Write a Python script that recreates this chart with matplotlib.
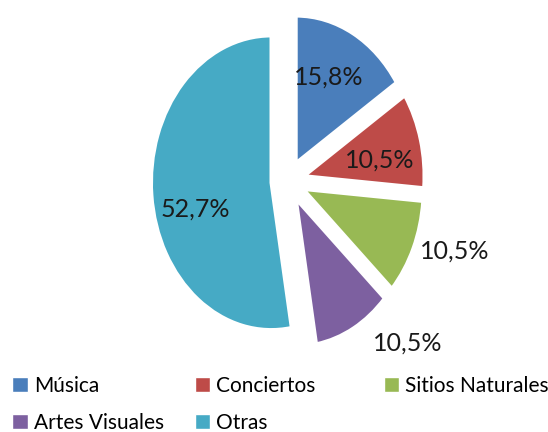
import matplotlib.pyplot as plt
import numpy as np
from matplotlib.patches import Patch

# Data
categories = ["Música", "Conciertos", "Sitios Naturales", "Artes Visuales", "Otras"]
values = [15.8, 10.5, 10.5, 10.5, 52.7]
pct_labels = ["15,8%", "10,5%", "10,5%", "10,5%", "52,7%"]
colors = ["#4A7EBB", "#BE4B48", "#98B954", "#7D60A0", "#46AAC5"]

font = ["Lato", "DejaVu Sans"]

fig = plt.figure(figsize=(5.48, 4.32), dpi=100)
ax = fig.add_axes([0, 0, 1, 1])

wedges, _ = ax.pie(values, colors=colors, startangle=90, counterclock=False,
                   explode=[0.14] * 5,
                   wedgeprops=dict(edgecolor="white", linewidth=2.5))
ax.set_aspect("auto")
ax.set_xlim(-2.4, 2.167)
ax.set_ylim(-1.707, 1.231)
ax.axis("off")

# label placement (radius, angle in degrees) relative to pie centre
label_pos = [(0.78, 64.5), (0.78, 10.6), (1.47, -19), (1.49, -47.8), (0.80, 194)]
for txt, (r, a) in zip(pct_labels, label_pos):
    t = np.deg2rad(a)
    ax.text(r * np.cos(t), r * np.sin(t), txt, ha="center", va="center",
            fontsize=18, family=font, color="#1a1a1a")

# legend: one small legend per column so columns start where the reference has them
columns = [[0, 3], [1, 4], [2]]
col_x = [0.022, 0.355, 0.7]
for idx, x in zip(columns, col_x):
    handles = [Patch(facecolor=colors[i], edgecolor="white") for i in idx]
    leg = fig.legend(handles, [categories[i] for i in idx], loc="upper left",
                     bbox_to_anchor=(x, 0.13), frameon=False,
                     prop=dict(family=font, size=15),
                     handlelength=0.75, handleheight=0.75, handletextpad=0.3,
                     labelspacing=0.8, borderaxespad=0, borderpad=0)

fig.savefig("out.png", dpi=100)
